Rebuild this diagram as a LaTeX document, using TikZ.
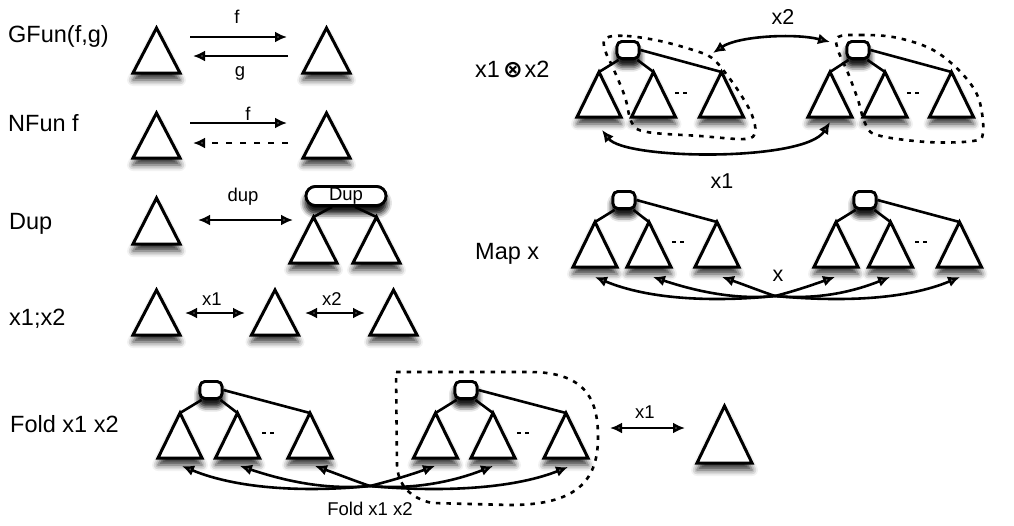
\documentclass[tikz,border=0pt]{standalone}
\usepackage{fontspec}
\setmainfont{Liberation Sans}
\newfontfamily\symfont{DejaVu Sans}
\usetikzlibrary{arrows.meta,shadows.blur,calc,shapes.misc}
\tikzset{
  shad/.style={blur shadow={shadow xshift=0pt, shadow yshift=-7pt, shadow blur radius=6pt, shadow opacity=80}},
  trishape/.style={draw=black, fill=white, line width=3pt, shad},
  rootbox/.style={draw=black, fill=white, rounded corners=5pt, minimum width=22pt, minimum height=17pt, inner sep=0pt, line width=2.8pt, shad},
  dupbox/.style={draw=black, fill=white, rounded rectangle, minimum width=80pt, minimum height=19pt, inner sep=0pt, line width=2.8pt, shad, font=\fontsize{18.5}{20}\selectfont},
  edge/.style={line width=2.6pt},
  arr/.style={line width=2.6pt, -{Latex[length=12pt,width=11pt]}},
  darr/.style={line width=2.6pt, {Latex[length=12pt,width=11pt]}-{Latex[length=12pt,width=11pt]}},
  dashedarr/.style={line width=2.6pt, dash pattern=on 6pt off 8pt, -{Latex[length=12pt,width=11pt]}},
  looppath/.style={line width=2.6pt, dash pattern=on 4.5pt off 6pt},
  dots/.style={line width=2.4pt, dash pattern=on 4pt off 4pt},
  big/.style={font=\fontsize{23.5}{28}\selectfont, inner sep=0pt, anchor=base west},
  small/.style={font=\fontsize{18.5}{22}\selectfont, inner sep=0pt, anchor=base},
  mid/.style={font=\fontsize{21.5}{25}\selectfont, inner sep=0pt, anchor=base},
}
% triangle: name, centre x, apex y, base y, half width
\newcommand\tri[5]{%
  \coordinate (#1) at (#2,#3);
  \path[trishape] (#2-#5,#4) -- (#1) -- (#2+#5,#4) -- cycle;}
% tree: prefix, box x, box y, t1 x, t2 x, t3 x, apex y, dash x, dash y
\newcommand\tree[9]{%
  \tri{#1a}{#4}{#7}{#7+45}{22}
  \tri{#1b}{#5}{#7}{#7+45}{22}
  \tri{#1c}{#6}{#7}{#7+45}{22}
  \node[rootbox] (#1r) at (#2,#3) {};
  \draw[edge] ($(#1r.south west)+(3,0)$) -- (#1a);
  \draw[edge] ($(#1r.south east)+(-3,0)$) -- (#1b);
  \draw[edge] (#1r.east) -- (#1c);
  \node[rootbox] at (#2,#3) {};
  \draw[dots] (#8,#9) -- ++(13,0);}
\begin{document}
\begin{tikzpicture}[x=1pt,y=-1pt]
\useasboundingbox (0,0) rectangle (1014,525);

% ---------- row labels ----------
\node[big] (lg) at (8,42) {GFun(f,g)};
\node[big] (ln) at (8,131) {NFun f};
\node[big] (ld) at (9,229) {Dup};
\node[big] (ls) at (9,325) {x1;x2};
\node[big] (lf) at (10,432) {Fold x1 x2};
\node[big] (lt) at (475,77) {x1\hspace{3pt}{\symfont\bfseries ⊗}\hspace{2pt}x2};
\node[big] (lm) at (475,259) {Map x};

% ---------- GFun ----------
\tri{ga}{156.5}{28}{73}{23.5}
\tri{gb}{326.5}{28}{73}{23.5}
\coordinate (gf1) at (190,37); \coordinate (gf2) at (287,37);
\coordinate (gg1) at (288,56); \coordinate (gg2) at (193,56);
\draw[arr] (gf1) -- (gf2);
\draw[arr] (gg1) -- (gg2);
\node[small] (lgf) at (237,23) {f};
\node[small] (lgg) at (240,76) {g};

% ---------- NFun ----------
\tri{na}{156.5}{113}{158}{23.5}
\tri{nb}{326.5}{113}{158}{23.5}
\coordinate (nf1) at (190,123); \coordinate (nf2) at (287,123);
\coordinate (nd1) at (288,143); \coordinate (nd2) at (193,143);
\draw[arr] (nf1) -- (nf2);
\draw[dashedarr] (nd1) -- (nd2);
\node[small] (lnf) at (248,120) {f};

% ---------- Dup ----------
\tri{da}{156.5}{198}{244}{23.5}
\tri{db}{313.5}{217}{263}{23.5}
\tri{dc}{376.5}{217}{263}{23.5}
\node[dupbox] (dupn) at (346,196) {};
\draw[edge] ($(dupn.south)+(-14,0)$) -- (db);
\draw[edge] ($(dupn.south)+(9,0)$) -- (dc);
\node[dupbox] (dupt) at (346,196) {\raisebox{2pt}{Dup}};
\coordinate (du1) at (198,220); \coordinate (du2) at (293,220);
\draw[darr] (du1) -- (du2);
\node[small] (ldu) at (243,201) {dup};

% ---------- x1;x2 ----------
\tri{sa}{156.5}{290}{335}{23.5}
\tri{sb}{275}{290}{335}{23.5}
\tri{sc}{393.5}{290}{335}{23.5}
\coordinate (s11) at (185,313); \coordinate (s12) at (245,313);
\coordinate (s21) at (305,313); \coordinate (s22) at (365,313);
\draw[darr] (s11) -- (s12);
\draw[darr] (s21) -- (s22);
\node[small] (ls1) at (212,305) {x1};
\node[small] (ls2) at (332,305) {x2};

% ---------- x1 (x) x2 ----------
\tree{p}{628}{50}{599}{653.5}{721.5}{72}{675}{93}
\tree{q}{858}{50}{830}{885}{951.5}{72}{907}{93}
\draw[looppath] plot[smooth cycle, tension=0.6] coordinates {(606,38) (627,36) (660,41) (693,50) (712,58) (727,75) (741,95) (752,115) (755,132) (745,139) (700,136) (647,132) (632,123) (625,97) (614,70) (605,50)};
\draw[looppath] plot[smooth cycle, tension=0.6] coordinates {(838,37) (860,35) (893,37) (927,47) (950,62) (970,83) (980,103) (983,133) (973,141) (927,142) (877,135) (865,123) (858,100) (848,73) (838,50)};
\coordinate (tc) at (713,53); \coordinate (td) at (830,42);
\draw[darr] (tc) .. controls (738,36) and (795,33) .. (td);
\node[mid] (ltx2) at (783,24) {x2};
\coordinate (ta) at (602,130); \coordinate (tb) at (830,122);
\draw[darr] (ta) .. controls (625,160) and (805,162) .. (tb);
\node[mid] (ltx1) at (722,188) {x1};

% ---------- Map x ----------
\tree{m}{624}{200}{595}{649}{717}{222}{672}{242}
\tree{n}{865}{200}{836}{890.5}{959.5}{222}{915}{242}
\coordinate (mh) at (775,296);
\coordinate (m1) at (595,277); \coordinate (m2) at (653,277); \coordinate (m3) at (722,277);
\coordinate (m4) at (835,277); \coordinate (m5) at (890,277); \coordinate (m6) at (960,277);
\draw[arr] (mh) .. controls (715,302) and (650,300) .. (m1);
\draw[arr] (mh) .. controls (735,300) and (695,291) .. (m2);
\draw[arr] (mh) .. controls (760,291) and (745,285) .. (m3);
\draw[arr] (mh) .. controls (795,291) and (812,285) .. (m4);
\draw[arr] (mh) .. controls (820,300) and (855,291) .. (m5);
\draw[arr] (mh) .. controls (840,302) and (905,300) .. (m6);
\node[mid] (lmx) at (778,281) {x};

% ---------- Fold x1 x2 ----------
\tree{f}{211}{390}{180}{237.5}{310}{413}{262}{433}
\tree{g}{466}{390}{435.5}{493}{566}{413}{517}{433}
\draw[looppath] (396,372) -- (530,372) .. controls (590,372) and (598,405) .. (598,437)
  .. controls (598,478) and (580,505) .. (510,505) -- (432,503)
  .. controls (410,498) and (398,485) .. (397,465) -- cycle;
\coordinate (fh) at (370,486);
\coordinate (f1) at (182,466); \coordinate (f2) at (240,466); \coordinate (f3) at (315,466);
\coordinate (f4) at (435,466); \coordinate (f5) at (493,466); \coordinate (f6) at (568,467);
\draw[arr] (fh) .. controls (310,492) and (240,490) .. (f1);
\draw[arr] (fh) .. controls (325,490) and (285,481) .. (f2);
\draw[arr] (fh) .. controls (355,481) and (340,475) .. (f3);
\draw[arr] (fh) .. controls (390,481) and (410,475) .. (f4);
\draw[arr] (fh) .. controls (415,490) and (455,481) .. (f5);
\draw[arr] (fh) .. controls (435,492) and (510,490) .. (f6);
\node[small] (lfx) at (370,515) {Fold x1 x2};
\tri{fz}{724.5}{406}{463}{27.5}
\coordinate (fx1) at (610,428); \coordinate (fx2) at (685,428);
\draw[darr] (fx1) -- (fx2);
\node[small] (lfx1) at (645,418) {x1};
\end{tikzpicture}
\end{document}
